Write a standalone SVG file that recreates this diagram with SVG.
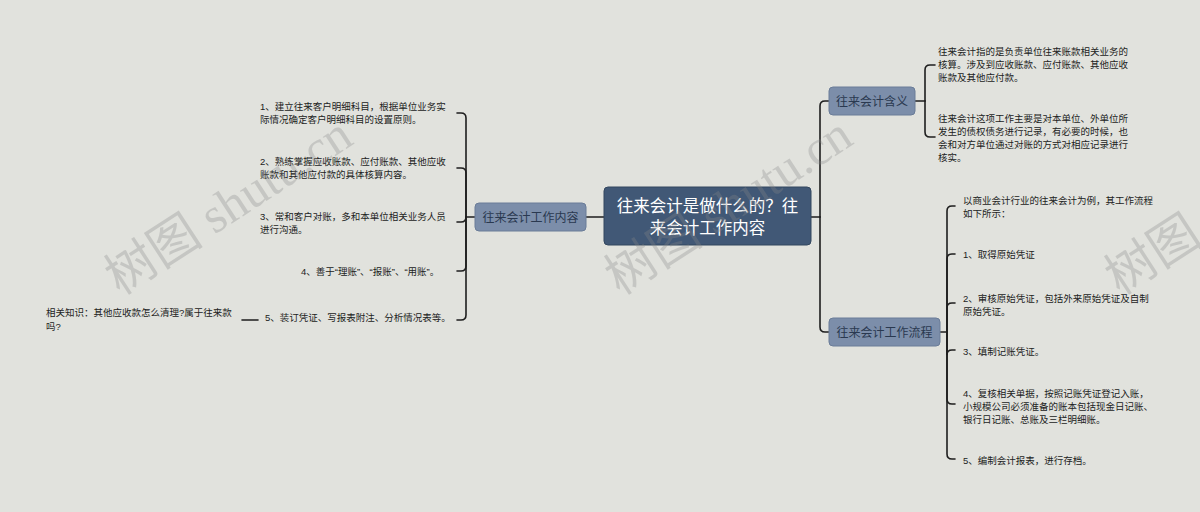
<svg xmlns="http://www.w3.org/2000/svg" width="1200" height="512" viewBox="0 0 1200 512">
<style>
.bg{fill:#e1e2dd}
.root{fill:#415876;stroke:#33475f;stroke-width:1}
.sub{fill:#7c8eaa;stroke:#6a7c98;stroke-width:1}
.rt{font-family:"Noto Sans CJK SC","Noto Sans",sans-serif;font-size:16.5px;fill:#ffffff;text-anchor:middle}
.st{font-family:"Noto Sans CJK SC","Noto Sans",sans-serif;font-size:12px;fill:#2a3950;text-anchor:middle}
.lt{font-family:"Liberation Sans","Noto Sans CJK SC",sans-serif;font-size:9.5px;fill:#222222}
.cn{fill:none;stroke:#1e1e1e;stroke-width:1.6;stroke-linecap:round}
.wm{font-family:"Liberation Serif","Noto Sans CJK SC",serif;font-size:50px;fill:#888888;opacity:0.3}
</style>
<rect class="bg" x="0" y="0" width="1200" height="512"/>
<g id="connectors">
<path class="cn" d="M604 217 H586"/>
<path class="cn" d="M475 217 H466"/>
<path class="cn" d="M466 217 V118 Q466 113 461 113 H457"/>
<path class="cn" d="M466 217 V173 Q466 168 461 168 H457"/>
<path class="cn" d="M466 217 Q466 222 461 222 H457"/>
<path class="cn" d="M466 217 V266 Q466 271 461 271 H457"/>
<path class="cn" d="M466 217 V315 Q466 320 461 320 H457"/>
<path class="cn" d="M242 320 H258"/>
<path class="cn" d="M811 217 H820"/>
<path class="cn" d="M820 217 V106 Q820 101 825 101 H829"/>
<path class="cn" d="M820 217 V327 Q820 332 825 332 H829"/>
<path class="cn" d="M915 101 H925"/>
<path class="cn" d="M925 101 V70 Q925 65 930 65 H935"/>
<path class="cn" d="M925 101 V132 Q925 137 930 137 H935"/>
<path class="cn" d="M940 332 H947"/>
<path class="cn" d="M947 332 V211 Q947 206 952 206 H955"/>
<path class="cn" d="M947 332 V259 Q947 254 952 254 H955"/>
<path class="cn" d="M947 332 V308 Q947 303 952 303 H955"/>
<path class="cn" d="M947 332 V355 Q947 350 952 350 H955"/>
<path class="cn" d="M947 332 V399 Q947 404 952 404 H955"/>
<path class="cn" d="M947 332 V454 Q947 459 952 459 H955"/>
</g>
<g id="root">
<rect class="root" x="604" y="187" width="207" height="58" rx="4"/>
<text class="rt" x="707.5" y="211.5">往来会计是做什么的？往</text>
<text class="rt" x="707.5" y="233.5">来会计工作内容</text>
</g>
<g id="n-content">
<rect class="sub" x="475" y="203" width="111" height="28" rx="4"/>
<text class="st" x="530.5" y="221.5">往来会计工作内容</text>
</g>
<g id="n-meaning">
<rect class="sub" x="829" y="87" width="86" height="28" rx="4"/>
<text class="st" x="872" y="105.5">往来会计含义</text>
</g>
<g id="n-flow">
<rect class="sub" x="829" y="318" width="111" height="28" rx="4"/>
<text class="st" x="884.5" y="336.5">往来会计工作流程</text>
</g>
<g id="leaf-c1">
<text class="lt" x="260" y="110">1、建立往来客户明细科目，根据单位业务实</text>
<text class="lt" x="260" y="123">际情况确定客户明细科目的设置原则。</text>
</g>
<g id="leaf-c2">
<text class="lt" x="260" y="165">2、熟练掌握应收账款、应付账款、其他应收</text>
<text class="lt" x="260" y="178">账款和其他应付款的具体核算内容。</text>
</g>
<g id="leaf-c3">
<text class="lt" x="260" y="219.5">3、常和客户对账，多和本单位相关业务人员</text>
<text class="lt" x="260" y="232.5">进行沟通。</text>
</g>
<g id="leaf-c4">
<text class="lt" x="301" y="274.5">4、善于“理账”、“报账”、“用账”。</text>
</g>
<g id="leaf-c5">
<text class="lt" x="265" y="321">5、装订凭证、写报表附注、分析情况表等。</text>
</g>
<g id="leaf-related">
<text class="lt" x="46" y="316">相关知识：其他应收款怎么清理?属于往来款</text>
<text class="lt" x="46" y="330">吗?</text>
</g>
<g id="leaf-m1">
<text class="lt" x="938" y="55">往来会计指的是负责单位往来账款相关业务的</text>
<text class="lt" x="938" y="68">核算。涉及到应收账款、应付账款、其他应收</text>
<text class="lt" x="938" y="81">账款及其他应付款。</text>
</g>
<g id="leaf-m2">
<text class="lt" x="938" y="121.5">往来会计这项工作主要是对本单位、外单位所</text>
<text class="lt" x="938" y="135">发生的债权债务进行记录，有必要的时候，也</text>
<text class="lt" x="938" y="148">会和对方单位通过对账的方式对相应记录进行</text>
<text class="lt" x="938" y="161">核实。</text>
</g>
<g id="leaf-f0">
<text class="lt" x="963" y="203.5">以商业会计行业的往来会计为例，其工作流程</text>
<text class="lt" x="963" y="216.5">如下所示：</text>
</g>
<g id="leaf-f1">
<text class="lt" x="963" y="258">1、取得原始凭证</text>
</g>
<g id="leaf-f2">
<text class="lt" x="963" y="301.5">2、审核原始凭证，包括外来原始凭证及自制</text>
<text class="lt" x="963" y="314.5">原始凭证。</text>
</g>
<g id="leaf-f3">
<text class="lt" x="963" y="355">3、填制记账凭证。</text>
</g>
<g id="leaf-f4">
<text class="lt" x="963" y="396.5">4、复核相关单据，按照记账凭证登记入账，</text>
<text class="lt" x="963" y="409.5">小规模公司必须准备的账本包括现金日记账、</text>
<text class="lt" x="963" y="422.5">银行日记账、总账及三栏明细账。</text>
</g>
<g id="leaf-f5">
<text class="lt" x="963" y="463.5">5、编制会计报表，进行存档。</text>
</g>
<g id="watermarks">
<text class="wm" transform="translate(120 296) rotate(-33)">树图 shutu.cn</text>
<text class="wm" transform="translate(620 296) rotate(-33)">树图 shutu.cn</text>
<text class="wm" transform="translate(1120 296) rotate(-33)">树图 shutu.cn</text>
</g>
</svg>
